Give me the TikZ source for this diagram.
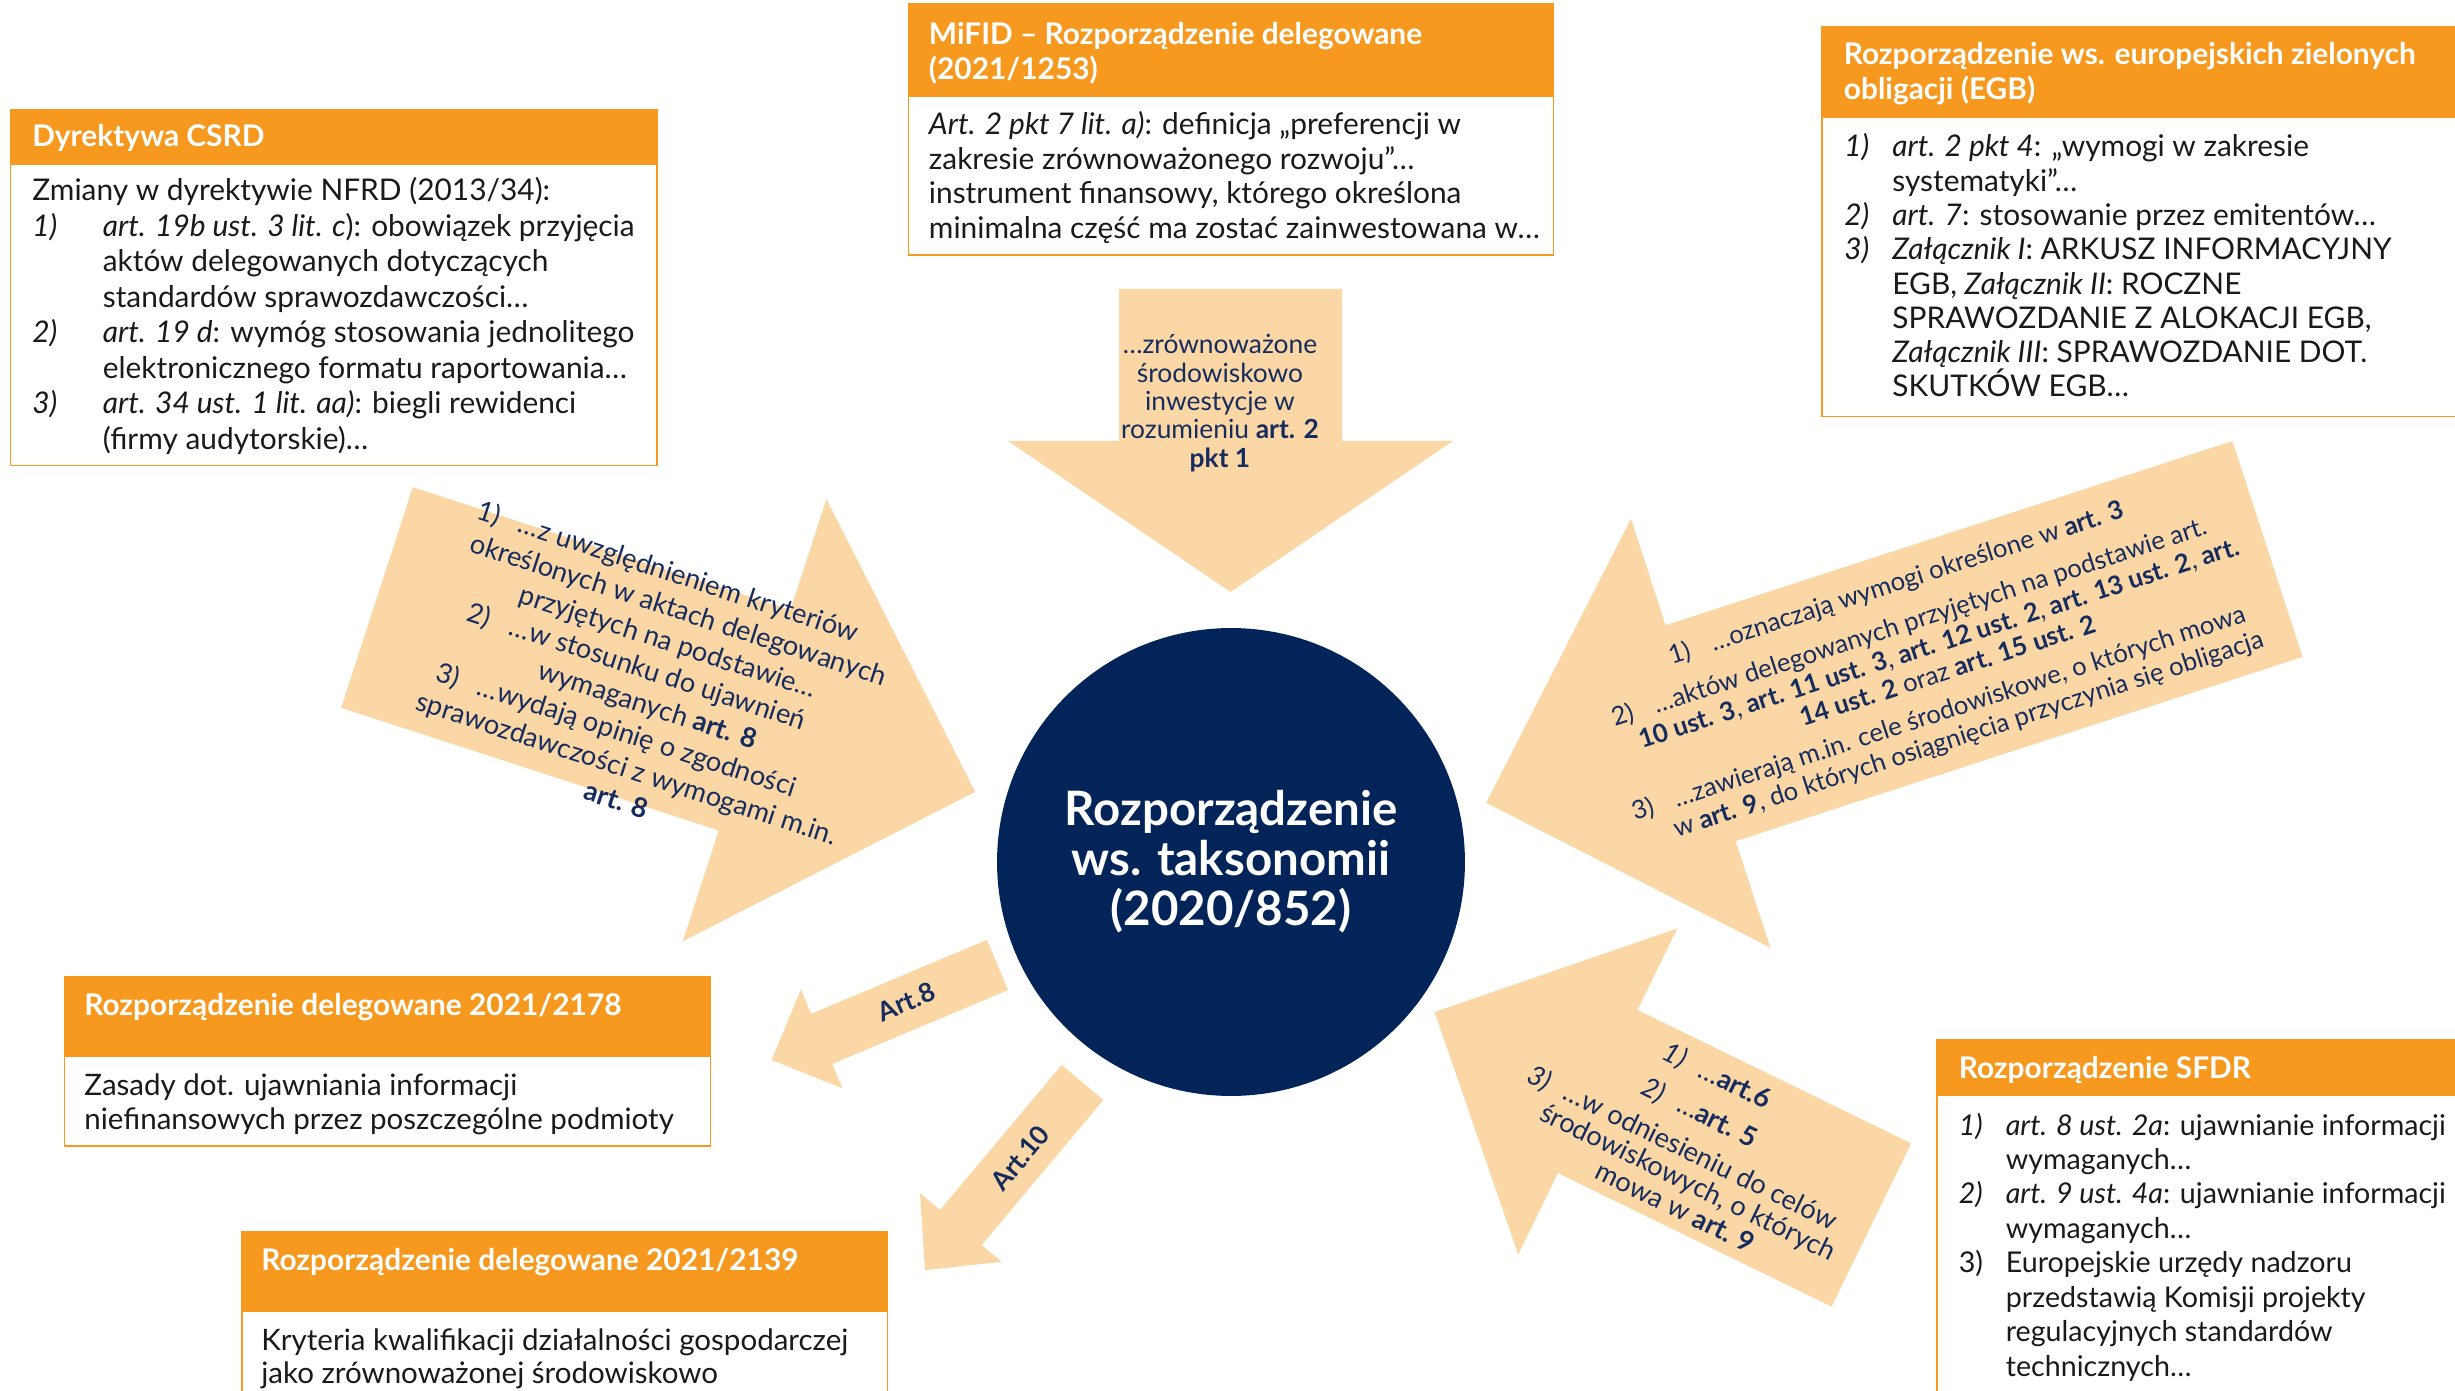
\documentclass[tikz,border=0pt]{standalone}
\usepackage{fontspec}
\setmainfont{Lato}
\definecolor{hdr}{HTML}{F7991F}
\definecolor{arw}{HTML}{FBD7A6}
\definecolor{navy}{HTML}{022459}
\definecolor{atext}{HTML}{172C5E}
\definecolor{btext}{HTML}{1A1A1A}
\newcommand\fs[2]{\fontsize{#1}{#2}\selectfont}
\newcommand\itm[3]{\hbox{\makebox[#1][l]{#2}#3}}
\newcommand\hang[2]{\llap{\makebox[#1][l]{#2}}}
\newcommand\barrow[4]{(0,-#2) -- (#1,-#2) -- (#1,-#3) -- (#4,0) -- (#1,#3) -- (#1,#2) -- (0,#2) -- cycle}
\tikzset{
  arrowshape/.style={fill=arw, draw=none},
  boxframe/.style={draw=hdr, line width=0.9pt, fill=white},
  boxhead/.style={fill=hdr, draw=hdr, line width=0.9pt},
  htext/.style={anchor=base west, inner sep=0, text=white, font=\bfseries},
  btxt/.style={anchor=base west, inner sep=0, text=btext},
  atxt/.style={align=center, inner sep=0, text=atext},
}
\begin{document}
\begin{tikzpicture}[x=0.02cm, y=-0.02cm]
\useasboundingbox (0,0) rectangle (2455,1391);
\fill[white] (0,0) rectangle (2455,1391);
\clip (0,0) rectangle (2455,1391);

% ---------- arrows ----------
\fill[arrowshape] (1119,289) -- (1342,289) -- (1342,441) -- (1453,441) -- (1230.5,592) -- (1008,441) -- (1119,441) -- cycle;
\begin{scope}[shift={(377,597.5)}, rotate=-18]
  \fill[arrowshape] \barrow{397}{116}{232.5}{629};
\end{scope}
\begin{scope}[shift={(2267.5,549)}, rotate=198]
  \fill[arrowshape] \barrow{596}{113.5}{225.5}{821.5};
\end{scope}
\begin{scope}[shift={(1871.4,1225)}, rotate=154]
  \fill[arrowshape] \barrow{304.5}{90.8}{181.4}{486};
\end{scope}
\begin{scope}[shift={(997.5,965)}, rotate=202.8]
  \fill[arrowshape] \barrow{190.7}{27.2}{53.7}{245};
\end{scope}
\begin{scope}[shift={(1082.5,1082.5)}, rotate=230]
  \fill[arrowshape] \barrow{189.3}{27.2}{53.3}{245};
\end{scope}

% ---------- arrow texts ----------
\node[atxt, font=\fs{15}{16.1}] (ta) at (1220,403)
  {…zrównoważone\\środowiskowo\\inwestycje w\\rozumieniu \textbf{art. 2}\\\textbf{pkt 1}};
\node[atxt, rotate=-18, font=\fs{15.5}{19}] (la) at (653,688)
  {\hang{0.88cm}{1)}…z uwzględnieniem kryteriów\\
   określonych w aktach delegowanych\\
   przyjętych na podstawie…\\
   \hang{0.88cm}{2)}…w stosunku do ujawnień\\
   wymaganych \textbf{art. 8}\\
   \hang{0.88cm}{3)}…wydają opinię o zgodności\\
   sprawozdawczości z wymogami m.in.\\
   \textbf{art. 8}};
\node[atxt, rotate=18, font=\fs{14.6}{16.6}] (ra) at (1943,656)
  {\hang{0.88cm}{1)}…oznaczają wymogi określone w \textbf{art. 3}\\[7pt]
   \hang{0.88cm}{2)}…aktów delegowanych przyjętych na podstawie art.\\
   \textbf{10 ust. 3}, \textbf{art. 11 ust. 3}, \textbf{art. 12 ust. 2}, \textbf{art. 13 ust. 2}, \textbf{art.}\\
   \textbf{14 ust. 2} oraz \textbf{art. 15 ust. 2}\\[4.5pt]
   \hang{0.88cm}{3)}…zawierają m.in. cele środowiskowe, o których mowa\\
   w \textbf{art. 9}, do których osiągnięcia przyczynia się obligacja};
\node[atxt, rotate=-26, font=\fs{15.5}{16.2}] (ba) at (1706,1145)
  {\hang{0.8cm}{\textit{1)}}…\textbf{art.6}\\[7pt]
   \hang{0.8cm}{\textit{2)}}…\textbf{art. 5}\\[6pt]
   \hang{0.8cm}{\textit{3)}}…w odniesieniu do celów\\
   środowiskowych, o których\\
   mowa w \textbf{art. 9}};
\node[atxt, rotate=22.8, font=\fs{15}{18}\bfseries] (a8) at (906.7,1001.7) {Art.8};
\node[atxt, rotate=50, font=\fs{15}{18}\bfseries] (a10) at (1020,1158) {Art.10};

% ---------- centre ----------
\node[circle, fill=navy, minimum size=9.36cm, inner sep=0, text=white, align=center,
      font=\fs{27}{28.5}\bfseries] (tax) at (1231,862) {Rozporządzenie\\ws. taksonomii\\(2020/852)};

% ---------- CSRD ----------
\draw[boxframe] (10.3,109.3) rectangle (657,465.7);
\draw[boxhead] (10.3,109.3) rectangle (657,164.3);
\node[htext, font=\fs{17}{20}\bfseries] (csrdh) at (32,147) {Dyrektywa CSRD};
\node[btxt] (csrdb) at (32,201) {\vtop{\fs{17}{20.2}
  \hbox{Zmiany w dyrektywie NFRD (2013/34):}
  \itm{1.41cm}{\textit{1)}}{\textit{art. 19b ust. 3 lit. c}): obowiązek przyjęcia}
  \itm{1.41cm}{}{aktów delegowanych dotyczących}
  \itm{1.41cm}{}{standardów sprawozdawczości…}
  \itm{1.41cm}{\textit{2)}}{\textit{art. 19 d}: wymóg stosowania jednolitego}
  \itm{1.41cm}{}{elektronicznego formatu raportowania…}
  \itm{1.41cm}{\textit{3)}}{\textit{art. 34 ust. 1 lit. aa)}: biegli rewidenci}
  \itm{1.41cm}{}{(firmy audytorskie)…}}};

% ---------- MiFID ----------
\draw[boxframe] (908.4,3.3) rectangle (1553.6,255);
\draw[boxhead] (908.4,3.3) rectangle (1553.6,96.7);
\node[htext] (mifidh) at (928.6,45) {\vtop{\fs{17}{19.9}\bfseries
  \hbox{MiFID – Rozporządzenie delegowane}\hbox{(2021/1253)}}};
\node[btxt] (mifidb) at (928.6,135) {\vtop{\fs{17}{19.6}
  \hbox{\textit{Art. 2 pkt 7 lit. a)}: definicja „preferencji w}
  \hbox{zakresie zrównoważonego rozwoju”…}
  \hbox{instrument finansowy, którego określona}
  \hbox{minimalna część ma zostać zainwestowana w…}}};

% ---------- EGB ----------
\draw[boxframe] (1822,26.7) rectangle (2470,416.7);
\draw[boxhead] (1822,26.7) rectangle (2470,117.7);
\node[htext] (egbh) at (1843.5,65) {\vtop{\fs{17}{19.9}\bfseries
  \hbox{Rozporządzenie ws. europejskich zielonych}\hbox{obligacji (EGB)}}};
\node[btxt] (egbb) at (1844,157) {\vtop{\fs{17}{19.5}
  \itm{0.96cm}{\textit{1)}}{\textit{art. 2 pkt 4}: „wymogi w zakresie}
  \itm{0.96cm}{}{systematyki”…}
  \itm{0.96cm}{\textit{2)}}{\textit{art. 7}: stosowanie przez emitentów…}
  \itm{0.96cm}{\textit{3)}}{\textit{Załącznik I}: ARKUSZ INFORMACYJNY}
  \itm{0.96cm}{}{EGB, \textit{Załącznik II}: ROCZNE}
  \itm{0.96cm}{}{SPRAWOZDANIE Z ALOKACJI EGB,}
  \itm{0.96cm}{}{\textit{Załącznik III}: SPRAWOZDANIE DOT.}
  \itm{0.96cm}{}{SKUTKÓW EGB…}}};

% ---------- 2021/2178 ----------
\draw[boxframe] (64.5,976.7) rectangle (710.6,1146);
\draw[boxhead] (64.5,976.7) rectangle (710.6,1056.7);
\node[htext, font=\fs{17}{20}\bfseries] (d2178h) at (84,1015) {Rozporządzenie delegowane 2021/2178};
\node[btxt] (d2178b) at (84,1095) {\vtop{\fs{16.8}{19.9}
  \hbox{Zasady dot. ujawniania informacji}
  \hbox{niefinansowych przez poszczególne podmioty}}};

% ---------- 2021/2139 ----------
\draw[boxframe] (242,1231.7) rectangle (887.4,1430);
\draw[boxhead] (242,1231.7) rectangle (887.4,1311);
\node[htext, font=\fs{17}{20}\bfseries] (d2139h) at (261,1270) {Rozporządzenie delegowane 2021/2139};
\node[btxt] (d2139b) at (261,1350) {\vtop{\fs{16.8}{19.2}
  \hbox{Kryteria kwalifikacji działalności gospodarczej}
  \hbox{jako zrównoważonej środowiskowo}}};

% ---------- SFDR ----------
\draw[boxframe] (1937,1040) rectangle (2470,1430);
\draw[boxhead] (1937,1040) rectangle (2470,1095);
\node[htext, font=\fs{17}{20}\bfseries] (sfdrh) at (1958.5,1078.5) {Rozporządzenie SFDR};
\node[btxt] (sfdrb) at (1958.5,1135) {\vtop{\fs{16.3}{19.6}
  \itm{0.94cm}{\textit{1)}}{\textit{art. 8 ust. 2a}: ujawnianie informacji}
  \itm{0.94cm}{}{wymaganych…}
  \itm{0.94cm}{\textit{2)}}{\textit{art. 9 ust. 4a}: ujawnianie informacji}
  \itm{0.94cm}{}{wymaganych…}
  \itm{0.94cm}{3)}{Europejskie urzędy nadzoru}
  \itm{0.94cm}{}{przedstawią Komisji projekty}
  \itm{0.94cm}{}{regulacyjnych standardów}
  \itm{0.94cm}{}{technicznych…}}};
\end{tikzpicture}
\end{document}
